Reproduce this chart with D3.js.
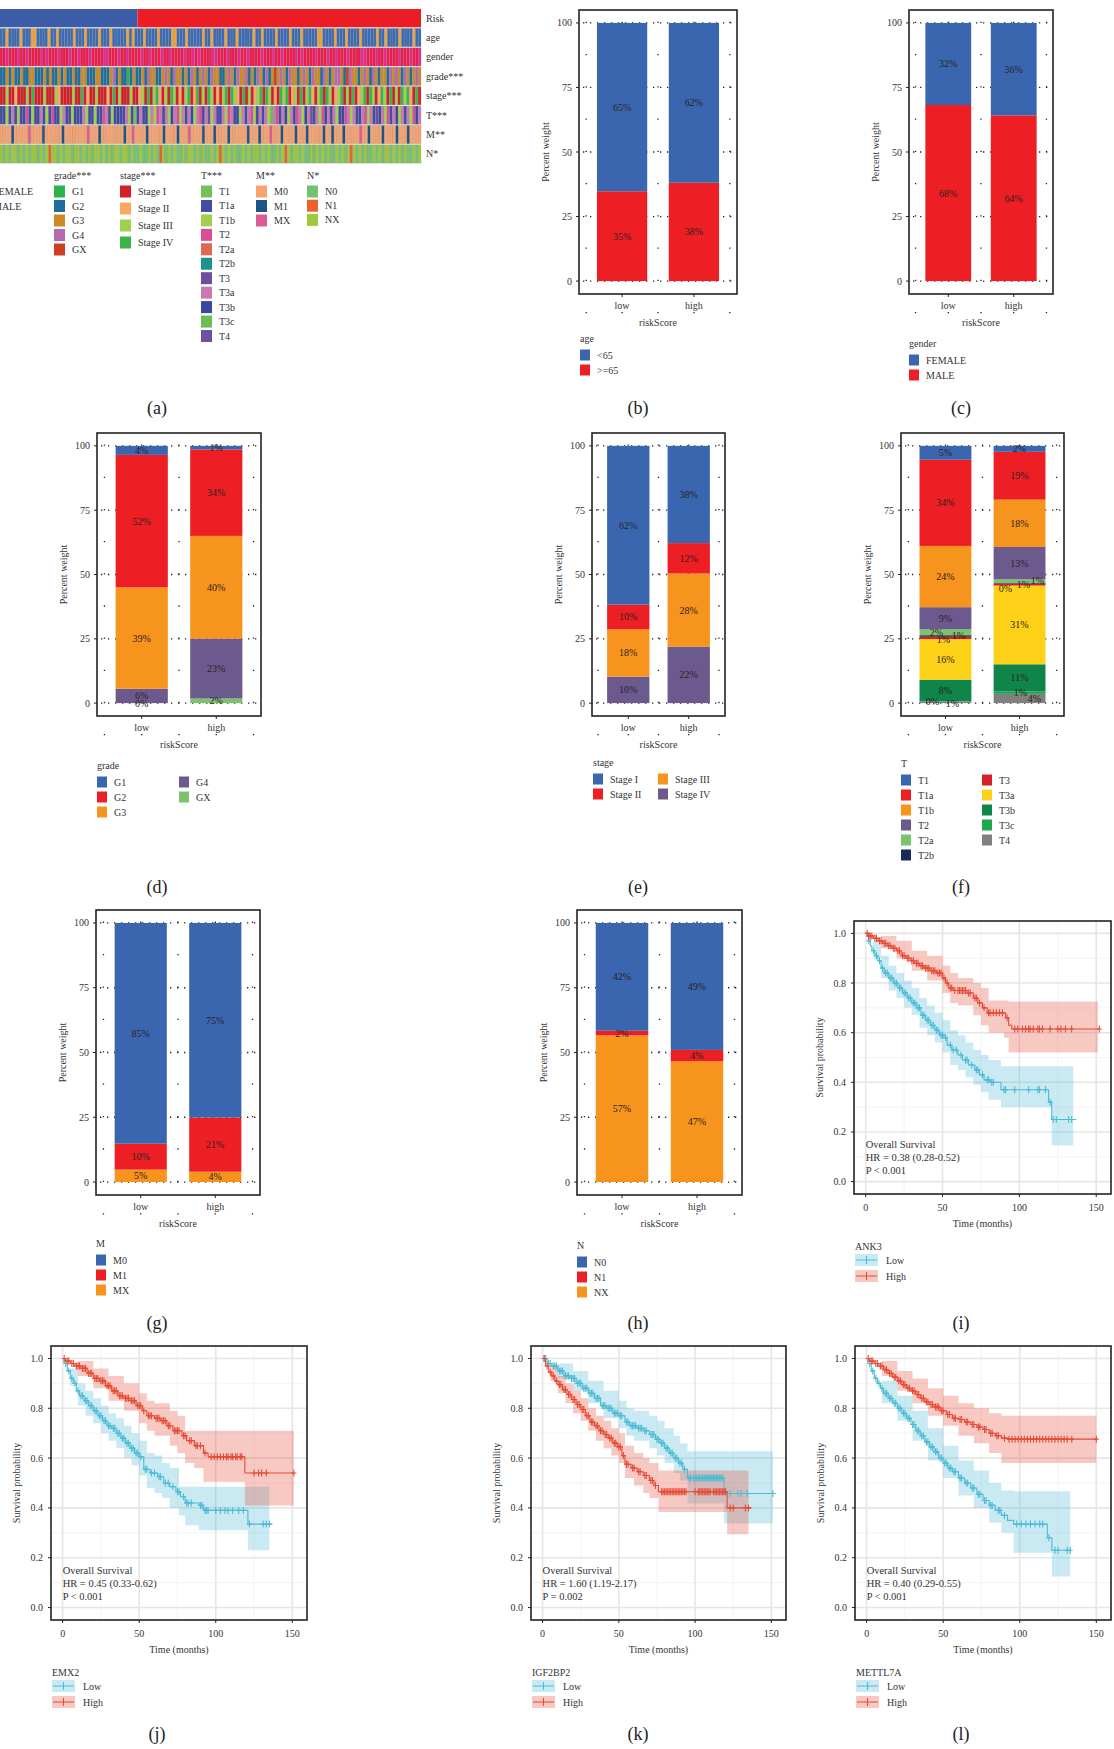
<!DOCTYPE html>
<html><head><meta charset="utf-8">
<script src="https://cdn.jsdelivr.net/npm/d3@7"></script>
<style>
body{margin:0;background:#fff;}
svg text{font-family:"Liberation Serif","DejaVu Serif",serif;fill:#333;}
</style></head><body>
<svg id="fig" width="1114" height="1749"></svg>
<script>
// ---------- (a) heatmap data: one code per patient, read left to right ----------
const riskCounts = [49, 101]; // low, high
const ageRow    = "aabaaaabaaabbaaaabaabaaaaabaaabaaaabaaabaaaaababaaabaaaabaaaabbaaabaaaaabaabaaaabaaabaaaaabaabaaaabaaaabaaabaaaaabbaaaabaaabaaaabaaaaabaabaaaabaaaabaa";
const genderRow = "mmfmmmfmmfmmmmfmfmmmfmmmfmmfmmmfmmmmffmmmfmmfmmmmfmmfmmmfmmfmmmmfmmfmfmmmmffmmmfmmmfmmfmmmmfmmmfmmfmmmmfmfmmmmfmmmfmmfmmmfmmmmffmmmfmmfmmmmfmmmfmmf";
const gradeRow  = "2232322322332223232232322322332223322234232212322" + "3243322343243323243234324332234324334232432423X343243323432433243234432X4332343243233243432432343";
const stageRow  = "1131121113141113111321111311412113111214131113112" + "3141342131431213412413143121341432141312341431214341231413421341431234131412341431243141314342141";
const tRow      = "bbcbhbcbbdbcbbhbcbdbbchbbcibbhcbbcbbdhbcbibbhcbab" + "hbichcdhbhcihdchbhichdbhkchbihcdhbichbhdcihbhcjhdbhichbdhcihkbhcdihbhcbidhchbihdchbkihcdbhichbhcdih";
const mRow      = "0000100000X00001000000100000000X000100000000100X0" + "000100000100001000X0000100010000100000010001000X0001000010001000001001000100000X001000010000100010000";
const nRow      = "X0X0XX0X0X0XX0X0X1XX0X0XX0XX0X0X0XX0X0X0XX0XX0X0" + "0X00X0X01X0X0X00X0XX0X0X00X0X1X0X0X00X0X0XX0X0X00X0X1X0XX0X00X0X0X0X00X0X0X1X0X0X00X0X0XX0X0X0X00X0X";

// ---------- (b)-(h) stacked percentage bars ----------
const groups = ["low", "high"];
const ageCats = ["<65", ">=65"];           const ageLow = [65.2, 34.8];  const ageHigh = [61.9, 38.1];
const genderCats = ["FEMALE", "MALE"];     const genderLow = [31.8, 68.2]; const genderHigh = [35.8, 64.2];
const gradeCats = ["G1", "G2", "G3", "G4", "GX"];
const gradeLow = [3.5, 51.5, 39.4, 5.6, 0.0];
const gradeHigh = [1.4, 33.6, 39.9, 23.3, 1.8];
const stageCats = ["Stage I", "Stage II", "Stage III", "Stage IV"];
const stageLow = [61.7, 9.6, 18.4, 10.3];
const stageHigh = [37.8, 11.8, 28.4, 22.0];
const tCats = ["T1", "T1a", "T1b", "T2", "T2a", "T2b", "T3", "T3a", "T3b", "T3c", "T4"];
const tLow = [5.4, 33.5, 23.8, 8.6, 2.3, 0.6, 0.9, 15.8, 8.4, 0.1, 0.6];
const tHigh = [2.3, 18.6, 18.4, 12.6, 1.4, 0.2, 0.8, 30.6, 10.6, 0.9, 3.6];
const mCats = ["M0", "M1", "MX"];  const mLow = [85.2, 10.0, 4.8]; const mHigh = [75.1, 20.9, 4.0];
const nCats = ["N0", "N1", "NX"];  const nLow = [41.6, 1.8, 56.6]; const nHigh = [49.0, 4.4, 46.6];
const pctTicks = [0, 25, 50, 75, 100];

// ---------- (i)-(l) Kaplan-Meier: [time, survival] steps, CI [time, lower, upper], censor times ----------
const ank3Low = [[0,1],[1,0.99],[2,0.97],[3,0.95],[4,0.93],[6,0.91],[8,0.89],[10,0.86],[12,0.84],[15,0.82],[18,0.80],[21,0.78],[24,0.76],[27,0.74],[30,0.72],[33,0.70],[36,0.67],[39,0.65],[42,0.63],[45,0.61],[48,0.59],[51,0.58],[53,0.55],[56,0.53],[60,0.51],[63,0.49],[67,0.47],[71,0.45],[74,0.43],[77,0.41],[81,0.40],[88,0.37],[119,0.32],[121,0.25],[137,0.25]];
const ank3LowCI = [[0,1,1],[5,0.90,0.97],[10,0.82,0.91],[15,0.77,0.87],[20,0.74,0.84],[25,0.70,0.81],[30,0.67,0.78],[35,0.62,0.74],[40,0.59,0.71],[45,0.56,0.68],[50,0.52,0.65],[55,0.47,0.61],[60,0.45,0.59],[65,0.42,0.56],[70,0.39,0.53],[75,0.36,0.51],[80,0.33,0.49],[88,0.30,0.465],[121,0.145,0.465],[135,0.145,0.465]];
const ank3LowCens = [2,5,7,9,11,13,14,16,17,19,20,22,23,25,26,28,29,31,32,34,35,37,38,40,41,43,44,46,47,49,50,52,55,57,59,62,65,66,69,72,73,76,79,80,82,83,90,91,97,106,112,113,117,120,122,124,132,134];
const ank3High = [[0,1],[2,0.99],[5,0.98],[8,0.97],[11,0.96],[14,0.95],[17,0.94],[20,0.93],[23,0.91],[26,0.90],[29,0.89],[32,0.88],[35,0.87],[38,0.86],[42,0.85],[46,0.84],[50,0.82],[52,0.80],[54,0.78],[57,0.77],[66,0.76],[70,0.74],[73,0.72],[76,0.70],[79,0.68],[91,0.66],[93,0.63],[95,0.615],[152,0.615]];
const ank3HighCI = [[0,1,1],[10,0.94,0.99],[20,0.90,0.97],[30,0.85,0.93],[40,0.81,0.91],[50,0.76,0.87],[55,0.72,0.84],[60,0.71,0.82],[70,0.67,0.80],[75,0.63,0.78],[80,0.60,0.73],[90,0.58,0.73],[93,0.52,0.726],[151,0.52,0.726]];
const ank3HighCens = [1,2,3,4,6,7,9,10,12,13,15,16,18,19,21,22,24,25,27,28,30,31,33,34,36,37,39,40,41,43,44,45,47,48,49,51,53,55,56,58,60,61,62,63,64,65,67,68,71,72,74,77,80,81,83,85,87,89,92,97,99,102,104,106,107,109,112,113,115,120,125,127,130,134,152];

const emx2Low = [[0,1],[1,0.98],[3,0.95],[5,0.92],[7,0.90],[9,0.87],[11,0.85],[14,0.83],[17,0.81],[20,0.79],[23,0.77],[26,0.75],[29,0.73],[32,0.72],[35,0.70],[38,0.68],[41,0.66],[44,0.64],[47,0.62],[50,0.605],[53,0.555],[57,0.54],[62,0.525],[66,0.50],[70,0.485],[74,0.465],[77,0.445],[80,0.42],[89,0.41],[92,0.39],[121,0.335],[137,0.335]];
const emx2LowCI = [[0,1,1],[5,0.89,0.96],[10,0.81,0.90],[15,0.77,0.87],[20,0.74,0.84],[25,0.70,0.81],[30,0.67,0.78],[35,0.64,0.76],[40,0.60,0.73],[45,0.57,0.70],[50,0.53,0.67],[55,0.48,0.62],[60,0.46,0.61],[65,0.44,0.58],[70,0.40,0.56],[76,0.37,0.485],[80,0.33,0.485],[89,0.31,0.485],[121,0.23,0.485],[135,0.23,0.485]];
const emx2LowCens = [2,4,6,8,10,12,13,15,16,18,19,21,22,24,25,27,28,30,31,33,34,36,37,39,40,42,43,45,46,48,49,51,54,55,58,60,63,64,67,69,72,75,76,79,81,82,84,90,91,93,94,95,100,103,106,108,111,115,118,122,131,133,135];
const emx2High = [[0,1],[2,0.99],[5,0.98],[8,0.97],[12,0.96],[16,0.94],[20,0.92],[24,0.91],[28,0.89],[32,0.87],[36,0.85],[40,0.84],[44,0.83],[48,0.81],[52,0.79],[55,0.77],[60,0.76],[64,0.75],[68,0.73],[72,0.71],[78,0.69],[81,0.67],[86,0.65],[92,0.62],[95,0.605],[119,0.54],[151,0.54]];
const emx2HighCI = [[0,1,1],[10,0.93,0.99],[20,0.88,0.96],[30,0.83,0.93],[40,0.79,0.90],[50,0.74,0.86],[55,0.71,0.83],[60,0.69,0.82],[70,0.65,0.79],[75,0.62,0.77],[80,0.58,0.71],[86,0.56,0.71],[92,0.505,0.71],[119,0.41,0.71],[151,0.41,0.71]];
const emx2HighCens = [1,3,4,6,7,9,10,11,13,14,15,17,18,19,21,22,23,25,26,27,29,30,31,33,34,35,37,38,39,41,42,43,45,46,47,49,50,51,53,56,57,58,61,62,63,65,66,67,69,70,73,74,75,76,79,80,83,84,87,88,90,93,97,99,101,103,105,107,108,110,111,113,114,116,117,125,128,130,133,151];

const igfLow = [[0,1],[3,0.98],[6,0.97],[10,0.95],[14,0.93],[18,0.92],[22,0.90],[26,0.88],[30,0.86],[34,0.84],[38,0.81],[42,0.80],[46,0.78],[50,0.77],[54,0.745],[57,0.73],[62,0.72],[66,0.71],[70,0.695],[74,0.675],[77,0.66],[80,0.64],[83,0.62],[86,0.60],[89,0.58],[92,0.555],[95,0.52],[119,0.458],[153,0.458]];
const igfLowCI = [[0,1,1],[10,0.92,0.98],[20,0.87,0.95],[30,0.82,0.91],[40,0.76,0.87],[50,0.72,0.83],[55,0.69,0.80],[60,0.67,0.79],[70,0.64,0.77],[75,0.61,0.75],[80,0.58,0.72],[86,0.54,0.69],[90,0.51,0.66],[95,0.418,0.627],[119,0.337,0.627],[151,0.337,0.627]];
const igfLowCens = [1,2,4,5,7,8,9,11,12,13,15,16,17,19,20,21,23,24,25,27,28,29,31,32,33,35,36,37,39,40,41,43,44,45,47,48,49,51,52,55,56,58,59,60,61,63,64,65,67,68,71,72,73,75,76,78,79,81,82,84,85,87,88,90,91,93,96,97,99,100,101,102,103,104,105,106,107,108,109,110,111,112,113,114,115,116,117,118,123,128,130,134,151];
const igfHigh = [[0,1],[2,0.97],[4,0.945],[6,0.93],[8,0.91],[10,0.895],[13,0.875],[16,0.855],[19,0.835],[22,0.815],[25,0.795],[28,0.77],[31,0.745],[34,0.73],[37,0.71],[40,0.695],[43,0.68],[46,0.66],[49,0.645],[52,0.61],[54,0.575],[58,0.56],[62,0.545],[66,0.53],[70,0.51],[73,0.49],[76,0.465],[121,0.40],[137,0.40]];
const igfHighCI = [[0,1,1],[5,0.91,0.97],[10,0.86,0.93],[15,0.82,0.90],[20,0.78,0.87],[25,0.75,0.84],[30,0.71,0.80],[35,0.67,0.77],[40,0.64,0.75],[45,0.61,0.72],[50,0.58,0.70],[54,0.52,0.65],[60,0.49,0.62],[66,0.46,0.60],[70,0.44,0.58],[76,0.384,0.55],[121,0.294,0.55],[135,0.294,0.55]];
const igfHighCens = [1,3,5,7,9,11,12,14,15,17,18,20,21,23,24,26,27,29,30,32,33,35,36,38,39,41,42,44,45,47,48,50,51,53,55,56,59,60,63,64,67,68,71,72,74,78,79,80,81,82,83,84,85,86,87,88,89,90,91,92,93,94,100,102,103,104,105,106,107,108,109,110,112,113,114,115,116,117,118,119,120,123,125,133,135];

const mettlLow = [[0,1],[1,0.98],[3,0.95],[5,0.92],[7,0.90],[9,0.88],[11,0.86],[14,0.84],[17,0.82],[20,0.80],[23,0.78],[26,0.76],[29,0.735],[32,0.71],[35,0.69],[38,0.665],[41,0.645],[44,0.625],[47,0.60],[50,0.58],[53,0.56],[56,0.545],[60,0.52],[64,0.50],[68,0.48],[72,0.455],[76,0.43],[80,0.41],[84,0.39],[88,0.37],[92,0.35],[96,0.335],[118,0.28],[121,0.23],[133,0.23]];
const mettlLowCI = [[0,1,1],[10,0.82,0.91],[20,0.75,0.85],[30,0.67,0.79],[40,0.59,0.72],[50,0.52,0.65],[60,0.45,0.59],[70,0.40,0.55],[80,0.34,0.50],[88,0.30,0.47],[96,0.22,0.467],[121,0.125,0.467],[133,0.125,0.467]];
const mettlLowCens = [2,4,6,8,10,12,13,15,16,18,19,21,22,24,25,27,28,30,31,33,34,36,37,39,40,42,43,45,46,48,49,51,52,54,55,57,58,61,62,65,66,69,70,73,74,77,78,81,82,86,87,90,98,101,104,107,110,113,115,119,123,125,131,133];
const mettlHigh = [[0,1],[2,0.99],[5,0.98],[8,0.97],[11,0.955],[14,0.94],[17,0.925],[20,0.91],[23,0.895],[26,0.88],[29,0.87],[32,0.855],[35,0.84],[38,0.825],[41,0.815],[44,0.805],[48,0.79],[52,0.775],[56,0.76],[60,0.755],[64,0.745],[68,0.735],[72,0.725],[76,0.715],[80,0.70],[84,0.69],[88,0.68],[92,0.676],[150,0.676]];
const mettlHighCI = [[0,1,1],[10,0.93,0.99],[20,0.87,0.95],[30,0.82,0.92],[40,0.77,0.88],[50,0.73,0.85],[60,0.69,0.82],[70,0.66,0.80],[80,0.62,0.78],[88,0.58,0.77],[150,0.58,0.77]];
const mettlHighCens = [1,3,4,6,7,9,10,12,13,15,16,18,19,21,22,24,25,27,28,30,31,33,34,36,37,39,40,42,43,45,46,47,49,50,53,54,57,58,61,62,65,66,69,70,73,74,77,78,81,82,85,86,90,93,95,97,99,101,103,105,107,109,111,113,115,117,119,121,123,125,127,129,131,134,150];

const timeTicks = [0, 50, 100, 150];
const survTicks = [0, 0.2, 0.4, 0.6, 0.8, 1.0];

// ---------- drawing ----------
const svg = d3.select("#fig");
svg.append("rect").attr("width", 1114).attr("height", 1749).attr("fill", "#fff");

const BLUE = "#3a66b0", RED = "#ed1f24", ORANGE = "#f7941d", PURPLE = "#6c5a8e", GREEN = "#7bc46b";

function caption(txt, x, y) {
  svg.append("text").attr("x", x).attr("y", y).attr("text-anchor", "middle")
    .attr("dominant-baseline", "central").style("font-size", "18px").style("fill", "#222").text(txt);
}

// (a) heatmap
function drawHeatmap() {
  const g = svg.append("g");
  const W = 421, top = 9, pitch = 19.4, rh = 18.3;
  const rx = d3.scaleLinear().domain([0, d3.sum(riskCounts)]).range([0, W]);
  g.append("rect").attr("x", 0).attr("y", top).attr("width", rx(riskCounts[0])).attr("height", rh).attr("fill", "#3d5ca8");
  g.append("rect").attr("x", rx(riskCounts[0])).attr("y", top).attr("width", W - rx(riskCounts[0])).attr("height", rh).attr("fill", "#ec1c24");

  const rows = [
    {codes: ageRow,    pal: {a: "#3b6bb4", b: "#f2a23a"}},
    {codes: genderRow, pal: {f: "#e42a8e", m: "#ee1b4d"}},
    {codes: gradeRow,  pal: {"1": "#2db34a", "2": "#1f6e9c", "3": "#cc8a26", "4": "#b56aaf", "X": "#cc3f25"}},
    {codes: stageRow,  pal: {"1": "#d32028", "2": "#f8a860", "3": "#a3cf4e", "4": "#3bb54a"}},
    {codes: tRow,      pal: {a: "#75c158", b: "#434ca2", c: "#a3cf4e", d: "#da4d9a", e: "#dd6952", f: "#1e938e", g: "#6d4f9f", h: "#cc78b0", i: "#3b47a0", j: "#6dbe52", k: "#6c51a0"}},
    {codes: mRow,      pal: {"0": "#f7a26f", "1": "#1f5383", "X": "#de5c96"}},
    {codes: nRow,      pal: {"0": "#73c273", "1": "#e9622a", "X": "#a0c83b"}}
  ];
  rows.forEach((row, r) => {
    const codes = row.codes.split("");
    const hx = d3.scaleLinear().domain([0, codes.length]).range([0, W]);
    const y0 = top + (r + 1) * pitch;
    g.selectAll(null).data(codes).enter().append("rect")
      .attr("x", (d, i) => hx(i)).attr("y", y0)
      .attr("width", hx(1) - hx(0)).attr("height", rh)
      .attr("fill", d => row.pal[d])
      .attr("stroke", "#8d8d8d").attr("stroke-opacity", 0.55).attr("stroke-width", 0.45);
  });
  const labels = ["Risk", "age", "gender", "grade***", "stage***", "T***", "M**", "N*"];
  labels.forEach((l, i) => {
    g.append("text").attr("x", 426).attr("y", top + i * pitch + rh / 2)
      .attr("dominant-baseline", "central").style("font-size", "10px").text(l);
  });

  // legends (left-most columns are cut by the figure edge)
  const legs = [
    {title: "gender", x: -29, cats: genderCats, pal: ["#e42a8e", "#ee1b4d"], step: 14.5},
    {title: "grade***", x: 54, cats: gradeCats, pal: ["#2db34a", "#1f6e9c", "#cc8a26", "#b56aaf", "#cc3f25"], step: 14.5},
    {title: "stage***", x: 120, cats: stageCats, pal: ["#d32028", "#f8a860", "#a3cf4e", "#3bb54a"], step: 17},
    {title: "T***", x: 201, cats: tCats, pal: ["#75c158", "#434ca2", "#a3cf4e", "#da4d9a", "#dd6952", "#1e938e", "#6d4f9f", "#cc78b0", "#3b47a0", "#6dbe52", "#6c51a0"], step: 14.45},
    {title: "M**", x: 256, cats: mCats, pal: ["#f7a26f", "#1f5383", "#de5c96"], step: 14.5},
    {title: "N*", x: 307, cats: nCats, pal: ["#73c273", "#e9622a", "#a0c83b"], step: 14.2}
  ];
  legs.forEach(L => {
    g.append("text").attr("x", L.x).attr("y", 175).attr("dominant-baseline", "central")
      .style("font-size", "10px").text(L.title);
    L.cats.forEach((c, i) => {
      const cy = 191.5 + i * L.step;
      g.append("rect").attr("x", L.x + (L.title === "gender" ? 4 : 0)).attr("y", cy - 6).attr("width", 11).attr("height", 12).attr("fill", L.pal[i]);
      g.append("text").attr("x", L.x + (L.title === "gender" ? 22 : 18)).attr("y", cy)
        .attr("dominant-baseline", "central").style("font-size", "10px").text(c);
    });
  });
}

// stacked percent bar panel
function drawBars(cfg) {
  const {L, R, T, B} = cfg.box;
  const g = svg.append("g");
  const x = d3.scaleLinear().domain([0.4, 2.6]).range([L, R]);
  const y = d3.scaleLinear().domain([-5, 105]).range([B, T]);

  // dotted grid
  const unit = y(0) - y(12.5);
  [0.5, 1, 1.5, 2, 2.5].forEach(v => {
    g.append("line").attr("x1", x(v)).attr("x2", x(v)).attr("y1", y(0) + unit * 1).attr("y2", T)
      .attr("stroke", "#222").attr("stroke-width", 1.3)
      .attr("stroke-dasharray", `1.3,${(unit - 1.3).toFixed(2)}`);
  });
  pctTicks.forEach(v => {
    g.append("line").attr("x1", L + 4).attr("x2", R).attr("y1", y(v)).attr("y2", y(v))
      .attr("stroke", "#222").attr("stroke-width", 1.3).attr("stroke-dasharray", "1.3,5.7");
  });

  // bars: first category on top
  const bw = x(1.35) - x(1);
  [cfg.low, cfg.high].forEach((vals, gi) => {
    const cx = x(gi + 1);
    let base = 0;
    const segs = [];
    for (let k = vals.length - 1; k >= 0; k--) {
      segs.push({k, y0: base, y1: base + vals[k]});
      base += vals[k];
    }
    g.selectAll(null).data(segs).enter().append("rect")
      .attr("x", cx - bw).attr("width", 2 * bw)
      .attr("y", d => y(d.y1)).attr("height", d => Math.max(0, y(d.y0) - y(d.y1)))
      .attr("fill", d => cfg.colors[d.k]);
    const nud = (cfg.nudge && cfg.nudge[groups[gi]]) || {};
    g.selectAll(null).data(segs).enter().append("text")
      .attr("x", d => cx + (nud[cfg.cats[d.k]] ? nud[cfg.cats[d.k]][0] : 0))
      .attr("y", d => y((d.y0 + d.y1) / 2) + (nud[cfg.cats[d.k]] ? nud[cfg.cats[d.k]][1] : 0))
      .attr("text-anchor", "middle").attr("dominant-baseline", "central")
      .style("font-size", "10px").style("fill", "#2b2222")
      .text(d => Math.round(cfg.low === vals ? vals[d.k] : vals[d.k]) + "%");
  });

  // frame, ticks
  g.append("rect").attr("x", L).attr("y", T).attr("width", R - L).attr("height", B - T)
    .attr("fill", "none").attr("stroke", "#222").attr("stroke-width", 1.6);
  pctTicks.forEach(v => {
    g.append("line").attr("x1", L - 3).attr("x2", L).attr("y1", y(v)).attr("y2", y(v)).attr("stroke", "#222");
    g.append("text").attr("x", L - 7).attr("y", y(v)).attr("text-anchor", "end")
      .attr("dominant-baseline", "central").style("font-size", "10px").text(v);
  });
  groups.forEach((gname, gi) => {
    g.append("line").attr("x1", x(gi + 1)).attr("x2", x(gi + 1)).attr("y1", B).attr("y2", B + 3).attr("stroke", "#222");
    g.append("text").attr("x", x(gi + 1)).attr("y", B + 11).attr("text-anchor", "middle")
      .attr("dominant-baseline", "central").style("font-size", "10px").text(gname);
  });
  g.append("text").attr("x", (L + R) / 2).attr("y", B + 28).attr("text-anchor", "middle")
    .attr("dominant-baseline", "central").style("font-size", "10px").text("riskScore");
  g.append("text").attr("transform", `translate(${L - 34},${(y(0) + y(100)) / 2}) rotate(-90)`)
    .attr("text-anchor", "middle").attr("dominant-baseline", "central").style("font-size", "10px").text("Percent weight");

  // legend
  const lg = cfg.legend;
  g.append("text").attr("x", lg.colX[0]).attr("y", lg.titleY).attr("dominant-baseline", "central")
    .style("font-size", "10px").text(cfg.title);
  lg.cols.forEach((col, ci) => {
    col.forEach((k, ri) => {
      const cy = lg.titleY + 17 + ri * 15;
      g.append("rect").attr("x", lg.colX[ci]).attr("y", cy - 5.5).attr("width", 10).attr("height", 11).attr("fill", cfg.colors[k]);
      g.append("text").attr("x", lg.colX[ci] + 17).attr("y", cy).attr("dominant-baseline", "central")
        .style("font-size", "10px").text(cfg.cats[k]);
    });
  });
}

// Kaplan-Meier panel
const LOWC = "#4DBBD5", HIGHC = "#E64B35";
function drawKM(cfg) {
  const {L, R, T, B} = cfg.box;
  const g = svg.append("g");
  const x = d3.scaleLinear().domain([-7.6, 159.6]).range([L, R]);
  const y = d3.scaleLinear().domain([-0.05, 1.05]).range([B, T]);

  [25, 75, 125].forEach(v => g.append("line").attr("x1", x(v)).attr("x2", x(v)).attr("y1", T).attr("y2", B).attr("stroke", "#f2f2f2").attr("stroke-width", 0.9));
  [0.1, 0.3, 0.5, 0.7, 0.9].forEach(v => g.append("line").attr("x1", L).attr("x2", R).attr("y1", y(v)).attr("y2", y(v)).attr("stroke", "#f2f2f2").attr("stroke-width", 0.9));
  timeTicks.forEach(v => g.append("line").attr("x1", x(v)).attr("x2", x(v)).attr("y1", T).attr("y2", B).attr("stroke", "#e6e6e6").attr("stroke-width", 1.6));
  survTicks.forEach(v => g.append("line").attr("x1", L).attr("x2", R).attr("y1", y(v)).attr("y2", y(v)).attr("stroke", "#e6e6e6").attr("stroke-width", 1.6));

  const area = d3.area().curve(d3.curveStepAfter).x(d => x(d[0])).y0(d => y(d[1])).y1(d => y(d[2]));
  const line = d3.line().curve(d3.curveStepAfter).x(d => x(d[0])).y(d => y(d[1]));
  const survAt = (curve, t) => { let s = 1; for (const p of curve) { if (p[0] <= t) s = p[1]; else break; } return s; };

  g.append("path").attr("d", area(cfg.lowCI)).attr("fill", LOWC).attr("fill-opacity", 0.3);
  g.append("path").attr("d", area(cfg.highCI)).attr("fill", HIGHC).attr("fill-opacity", 0.3);
  [[cfg.low, cfg.lowCens, LOWC], [cfg.high, cfg.highCens, HIGHC]].forEach(([curve, cens, col]) => {
    g.append("path").attr("d", line(curve)).attr("fill", "none").attr("stroke", col).attr("stroke-width", 1.1);
    g.selectAll(null).data(cens).enter().append("path")
      .attr("d", t => `M${x(t)},${y(survAt(curve, t)) - 3.5}V${y(survAt(curve, t)) + 3.5}M${x(t) - 2.5},${y(survAt(curve, t))}H${x(t) + 2.5}`)
      .attr("stroke", col).attr("stroke-width", 1.1);
  });

  g.append("rect").attr("x", L).attr("y", T).attr("width", R - L).attr("height", B - T)
    .attr("fill", "none").attr("stroke", "#222").attr("stroke-width", 1.6);
  survTicks.forEach(v => {
    g.append("line").attr("x1", L - 3).attr("x2", L).attr("y1", y(v)).attr("y2", y(v)).attr("stroke", "#222");
    g.append("text").attr("x", L - 8).attr("y", y(v)).attr("text-anchor", "end").attr("dominant-baseline", "central")
      .style("font-size", "10px").text(v.toFixed(1));
  });
  timeTicks.forEach(v => {
    g.append("line").attr("x1", x(v)).attr("x2", x(v)).attr("y1", B).attr("y2", B + 3).attr("stroke", "#222");
    g.append("text").attr("x", x(v)).attr("y", B + 13).attr("text-anchor", "middle").attr("dominant-baseline", "central")
      .style("font-size", "10px").text(v);
  });
  g.append("text").attr("x", (L + R) / 2).attr("y", B + 29).attr("text-anchor", "middle").attr("dominant-baseline", "central")
    .style("font-size", "10px").text("Time (months)");
  g.append("text").attr("transform", `translate(${L - 35},${(y(0) + y(1)) / 2}) rotate(-90)`)
    .attr("text-anchor", "middle").attr("dominant-baseline", "central").style("font-size", "10px").text("Survival probability");

  cfg.notes.forEach((t, i) => {
    g.append("text").attr("x", x(0)).attr("y", y(0.15) + i * 13).attr("dominant-baseline", "central")
      .style("font-size", "10.5px").text(t);
  });

  g.append("text").attr("x", L + 1).attr("y", B + 52).attr("dominant-baseline", "central").style("font-size", "10px").text(cfg.gene);
  [["Low", LOWC], ["High", HIGHC]].forEach(([lab, col], i) => {
    const cy = B + 66 + i * 16;
    g.append("rect").attr("x", L + 1).attr("y", cy - 6).attr("width", 23).attr("height", 12).attr("fill", col).attr("fill-opacity", 0.3);
    g.append("path").attr("d", `M${L + 2},${cy}H${L + 23}M${L + 12.5},${cy - 4}V${cy + 4}`).attr("stroke", col).attr("stroke-width", 1.1);
    g.append("text").attr("x", L + 32).attr("y", cy).attr("dominant-baseline", "central").style("font-size", "10px").text(lab);
  });
}

drawHeatmap();

drawBars({box: {L: 579, R: 737, T: 10, B: 294}, cats: ageCats, low: ageLow, high: ageHigh, colors: [BLUE, RED], title: "age",
  legend: {titleY: 338, colX: [580], cols: [[0, 1]]}});
drawBars({box: {L: 909, R: 1053, T: 10, B: 294}, cats: genderCats, low: genderLow, high: genderHigh, colors: [BLUE, RED], title: "gender",
  legend: {titleY: 343, colX: [909], cols: [[0, 1]]}});
drawBars({box: {L: 97, R: 261, T: 433, B: 716}, cats: gradeCats, low: gradeLow, high: gradeHigh, colors: [BLUE, RED, ORANGE, PURPLE, GREEN], title: "grade",
  legend: {titleY: 765, colX: [97, 179], cols: [[0, 1, 2], [3, 4]]}});
drawBars({box: {L: 592, R: 725, T: 433, B: 716}, cats: stageCats, low: stageLow, high: stageHigh, colors: [BLUE, RED, ORANGE, PURPLE], title: "stage",
  legend: {titleY: 762, colX: [593, 658], cols: [[0, 1], [2, 3]]}});
drawBars({box: {L: 901, R: 1064, T: 433, B: 716}, cats: tCats, low: tLow, high: tHigh,
  colors: [BLUE, RED, ORANGE, PURPLE, GREEN, "#1b2a5c", "#d42027", "#fdd118", "#10854a", "#1ba94c", "#808080"], title: "T",
  legend: {titleY: 763, colX: [901, 982], cols: [[0, 1, 2, 3, 4, 5], [6, 7, 8, 9, 10]]},
  nudge: {low: {T2a: [-9, 0], T2b: [13, 0], T3: [-2, 2], T3c: [-13, 0], T4: [7, 1]},
          high: {T2a: [18, -1], T2b: [-14, 5], T3: [4, 0], T3c: [1, 0], T4: [15, 0]}}});
drawBars({box: {L: 96, R: 260, T: 910, B: 1195}, cats: mCats, low: mLow, high: mHigh, colors: [BLUE, RED, ORANGE], title: "M",
  legend: {titleY: 1243, colX: [96], cols: [[0, 1, 2]]}});
drawBars({box: {L: 577, R: 742, T: 910, B: 1195}, cats: nCats, low: nLow, high: nHigh, colors: [BLUE, RED, ORANGE], title: "N",
  legend: {titleY: 1245, colX: [577], cols: [[0, 1, 2]]}});

drawKM({box: {L: 854, R: 1111, T: 921, B: 1194}, gene: "ANK3", low: ank3Low, lowCI: ank3LowCI, lowCens: ank3LowCens,
  high: ank3High, highCI: ank3HighCI, highCens: ank3HighCens, notes: ["Overall Survival", "HR = 0.38 (0.28-0.52)", "P < 0.001"]});
drawKM({box: {L: 51, R: 307, T: 1346, B: 1620}, gene: "EMX2", low: emx2Low, lowCI: emx2LowCI, lowCens: emx2LowCens,
  high: emx2High, highCI: emx2HighCI, highCens: emx2HighCens, notes: ["Overall Survival", "HR = 0.45 (0.33-0.62)", "P < 0.001"]});
drawKM({box: {L: 531, R: 786, T: 1346, B: 1620}, gene: "IGF2BP2", low: igfLow, lowCI: igfLowCI, lowCens: igfLowCens,
  high: igfHigh, highCI: igfHighCI, highCens: igfHighCens, notes: ["Overall Survival", "HR = 1.60 (1.19-2.17)", "P = 0.002"]});
drawKM({box: {L: 855, R: 1111, T: 1346, B: 1620}, gene: "METTL7A", low: mettlLow, lowCI: mettlLowCI, lowCens: mettlLowCens,
  high: mettlHigh, highCI: mettlHighCI, highCens: mettlHighCens, notes: ["Overall Survival", "HR = 0.40 (0.29-0.55)", "P < 0.001"]});

[["(a)", 157, 408], ["(b)", 638, 408], ["(c)", 961, 408],
 ["(d)", 157, 887], ["(e)", 638, 887], ["(f)", 961, 887],
 ["(g)", 157, 1323], ["(h)", 638, 1323], ["(i)", 961, 1323],
 ["(j)", 157, 1734], ["(k)", 638, 1734], ["(l)", 961, 1734]].forEach(c => caption(...c));
</script></body></html>
